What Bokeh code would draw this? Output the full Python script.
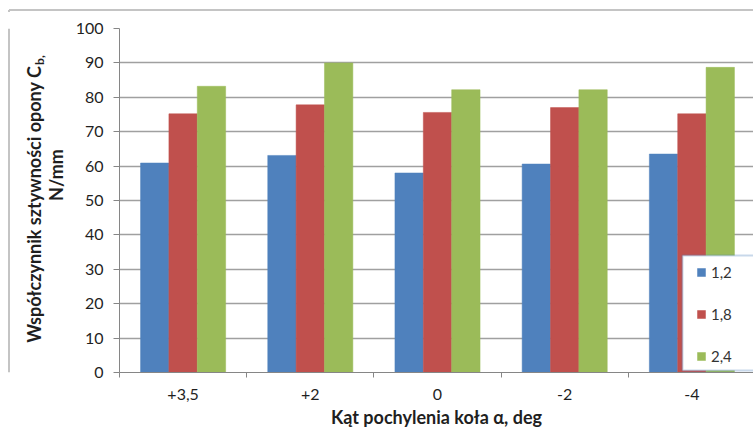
from math import pi

from bokeh.plotting import figure
from bokeh.layouts import row, column
from bokeh.models import (Range1d, FixedTicker, Label, BoxAnnotation,
                          ColumnDataSource, Legend, LegendItem)
from bokeh.embed import file_html
from bokeh.resources import INLINE

# Camber angle categories and tyre stiffness coefficient per inflation pressure
angles = ["+3,5", "+2", "0", "-2", "-4"]
series_names = ["1,2", "1,8", "2,4"]
s12 = [60.9, 63.1, 58.0, 60.6, 63.5]
s18 = [75.2, 77.8, 75.6, 77.0, 75.2]
s24 = [83.2, 90.0, 82.2, 82.2, 88.7]
y_ticks = list(range(0, 101, 10))

colors = ["#4f81bd", "#c0504d", "#9bbb59"]
FONT = "Lato"
TEXT = "#1f1f1f"
BORDER = "#c4c4c4"
W, H = 753, 437
BAND_H = 12             # thin band above the chart carrying the border's top edge
STRIP_W = 72            # narrow panel holding the vertical axis title
FRAME_LEFT = 119        # page x of the plot frame's left edge
FRAME_TOP, FRAME_BOTTOM = 28, 372
CAT_PX = 127.2

# ---- top band: upper edge of the chart border ----
band = figure(width=W, height=BAND_H, output_backend="svg", toolbar_location=None,
              x_range=Range1d(0, W), y_range=Range1d(BAND_H, 0),
              x_axis_type=None, y_axis_type=None, min_border=0)
band.outline_line_color = None
band.segment(x0=[8.5, 8.5], y0=[9.5, 9.5], x1=[W, 8.5], y1=[9.5, BAND_H],
             line_color=BORDER, line_width=2)

# ---- left strip: vertical axis title and left edge of the border ----
strip = figure(width=STRIP_W, height=H - BAND_H, output_backend="svg",
               toolbar_location=None,
               x_range=Range1d(0, STRIP_W), y_range=Range1d(H, BAND_H),
               x_axis_type=None, y_axis_type=None, min_border=0)
strip.outline_line_color = None
strip.segment(x0=[8.5], y0=[BAND_H], x1=[8.5], y1=[H], line_color=BORDER, line_width=2)
strip.add_layout(Label(x=33, y=58, angle=pi / 2,
                       text="Współczynnik sztywności opony C", text_font=FONT,
                       text_font_size="18px", text_font_style="bold", text_color=TEXT,
                       text_align="right", text_baseline="middle"))
strip.add_layout(Label(x=39, y=57, angle=pi / 2, text="b,", text_font=FONT,
                       text_font_size="12px", text_font_style="bold", text_color=TEXT,
                       text_align="left", text_baseline="middle"))
strip.add_layout(Label(x=55, y=193, angle=pi / 2, text="N/mm", text_font=FONT,
                       text_font_size="18px", text_font_style="bold", text_color=TEXT,
                       text_align="center", text_baseline="middle"))

# ---- main chart ----
p = figure(width=W - STRIP_W, height=H - BAND_H, output_backend="svg",
           toolbar_location=None,
           x_range=Range1d(0, (W - FRAME_LEFT) / CAT_PX), y_range=Range1d(0, 100),
           min_border_left=FRAME_LEFT - STRIP_W, min_border_right=0,
           min_border_top=FRAME_TOP - BAND_H, min_border_bottom=H - FRAME_BOTTOM)
p.outline_line_color = None
p.background_fill_color = "white"
p.border_fill_color = "white"

# grouped bars
bar_w = 0.223
items = []
for k, (name, vals, col) in enumerate(zip(series_names, [s12, s18, s24], colors)):
    xs = [i + 0.5 + (k - 1) * bar_w for i in range(len(angles))]
    src = ColumnDataSource(dict(x=xs, top=vals))
    r = p.vbar(x="x", top="top", width=bar_w, bottom=0, source=src,
               fill_color=col, line_color=col, line_width=0.5)
    items.append(LegendItem(label=name, renderers=[r]))

# grid and axes
p.xgrid.visible = False
p.ygrid.grid_line_color = "#a0a0a0"
p.ygrid.grid_line_width = 1.4
p.ygrid.ticker = FixedTicker(ticks=y_ticks)

ya = p.yaxis[0]
ya.ticker = FixedTicker(ticks=y_ticks, minor_ticks=[])
ya.axis_line_color = "#868686"
ya.major_tick_line_color = "#868686"
ya.major_tick_in = 0
ya.major_tick_out = 6
ya.minor_tick_line_color = None
ya.major_label_standoff = 10
ya.major_label_text_font = FONT
ya.major_label_text_font_size = "16px"
ya.major_label_text_color = TEXT

xa = p.xaxis[0]
centers = [i + 0.5 for i in range(len(angles))]
xa.ticker = FixedTicker(ticks=centers, minor_ticks=list(range(len(angles) + 1)))
xa.major_label_overrides = {c: lab for c, lab in zip(centers, angles)}
xa.axis_line_color = "#868686"
xa.major_tick_line_color = None
xa.major_tick_in = 0
xa.major_tick_out = 5
xa.minor_tick_line_color = "#868686"
xa.minor_tick_in = 0
xa.minor_tick_out = 5
xa.major_label_standoff = 11
xa.major_label_text_font = FONT
xa.major_label_text_font_size = "16px"
xa.major_label_text_color = TEXT
xa.axis_label = "Kąt pochylenia koła α, deg"
xa.axis_label_text_font = FONT
xa.axis_label_text_font_size = "18px"
xa.axis_label_text_font_style = "bold"
xa.axis_label_text_color = TEXT
xa.axis_label_standoff = 3

# legend: framed box running past the right edge
p.add_layout(BoxAnnotation(left=563, right=700, bottom=2, top=117,
                           left_units="screen", right_units="screen",
                           bottom_units="screen", top_units="screen",
                           fill_color="white", fill_alpha=1,
                           line_color="#4a7ebb", line_width=2))
legend = Legend(items=items, location=(577, 7), orientation="vertical",
                border_line_color=None, background_fill_alpha=0,
                padding=11, spacing=24, margin=0,
                glyph_width=10, glyph_height=10, label_standoff=5,
                label_width=40,
                label_text_font=FONT, label_text_font_size="15px",
                label_text_color="#333333")
p.add_layout(legend)

open("out.html", "w").write(file_html(column(band, row(strip, p, spacing=0), spacing=0), INLINE))
